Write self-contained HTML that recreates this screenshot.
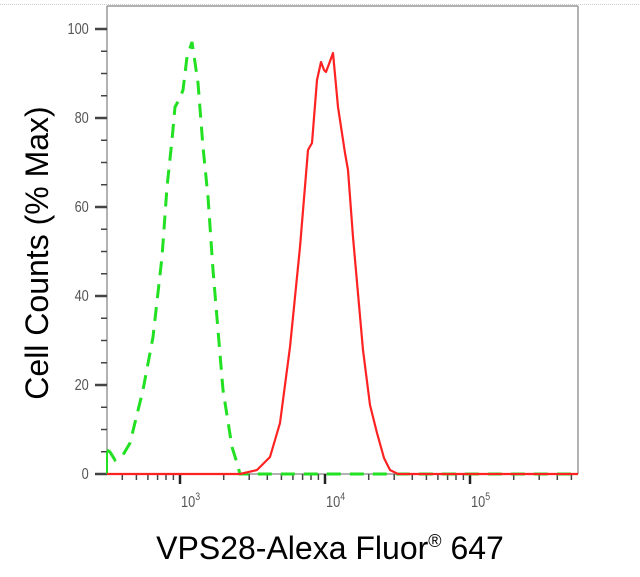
<!DOCTYPE html>
<html><head><style>html,body{margin:0;padding:0;background:#fff;}svg{display:block;}</style></head>
<body>
<svg width="640" height="577" viewBox="0 0 640 577" xmlns="http://www.w3.org/2000/svg">
<rect width="640" height="577" fill="#fff"/>
<line x1="0" y1="4.5" x2="640" y2="4.5" stroke="#ccc" stroke-dasharray="1 1"/>
<line x1="107" y1="6" x2="578" y2="6" stroke="#999" stroke-width="1.5"/>
<line x1="578" y1="6" x2="578" y2="474" stroke="#999" stroke-width="1.5"/>
<line x1="107" y1="6" x2="107" y2="474" stroke="#999" stroke-width="1.5"/>
<line x1="107" y1="474" x2="578" y2="474" stroke="#999" stroke-width="1.5"/>
<g stroke="#444" stroke-width="1.5">
<line x1="95" y1="474" x2="107" y2="474" stroke-width="2.5"/>
<line x1="95" y1="385" x2="107" y2="385" stroke-width="2.5"/>
<line x1="95" y1="296" x2="107" y2="296" stroke-width="2.5"/>
<line x1="95" y1="207" x2="107" y2="207" stroke-width="2.5"/>
<line x1="95" y1="118" x2="107" y2="118" stroke-width="2.5"/>
<line x1="95" y1="29" x2="107" y2="29" stroke-width="2.5"/>
<path d="M101 451.75H107M101 429.5H107M101 407.25H107M101 362.75H107M101 340.5H107M101 318.25H107M101 273.75H107M101 251.5H107M101 229.25H107M101 184.75H107M101 162.5H107M101 140.25H107M101 95.75H107M101 73.5H107M101 51.25H107"/>
</g>
<g font-family="Liberation Sans, sans-serif" font-size="16" fill="#555" text-anchor="end" transform="scale(0.8,1)">
<text x="111" y="479">0</text>
<text x="111" y="390">20</text>
<text x="111" y="301">40</text>
<text x="111" y="212">60</text>
<text x="111" y="123">80</text>
<text x="111" y="34">100</text>
</g>
<path stroke="#444" stroke-width="1.5" d="
M122.3 474v6M136.4 474v6M147.9 474v6M157.6 474v6M166 474v6M173.4 474v6
M223.7 474v6M249.2 474v6M267.3 474v6M281.4 474v6M292.9 474v6M302.6 474v6M311 474v6M318.4 474v6
M368.7 474v6M394.2 474v6M412.3 474v6M426.4 474v6M437.9 474v6M447.6 474v6M456 474v6M463.4 474v6
M513.7 474v6M539.2 474v6M557.3 474v6M571.4 474v6"/>
<path stroke="#222" stroke-width="2.5" d="M180 474v10M325 474v10M470 474v10"/>
<g font-family="Liberation Sans, sans-serif" font-size="16" fill="#555">
<text x="181" y="507" transform="translate(181 0) scale(0.8 1) translate(-181 0)">10<tspan font-size="11" dy="-7">3</tspan></text>
<text x="326" y="507" transform="translate(326 0) scale(0.8 1) translate(-326 0)">10<tspan font-size="11" dy="-7">4</tspan></text>
<text x="471" y="507" transform="translate(471 0) scale(0.8 1) translate(-471 0)">10<tspan font-size="11" dy="-7">5</tspan></text>
</g>
<polyline fill="none" stroke="#22e022" stroke-width="3" stroke-dasharray="14 9" points="107,450 110,452 115,460 123,455 130,443 143,390 153,337 162,257 167,187 172,140 175,107 180,98 183,90 187,57 192,42 198,83 203,147 208,197 213,270 218,330 223,390 232,447 237,463 240,474 578,474"/>
<polyline fill="none" stroke="#22e022" stroke-width="2" points="107,474 107,452"/>
<polyline fill="none" stroke="#f22" stroke-width="2.2" stroke-linejoin="round" points="107,474 240,474 257,470 270,457 280,423 290,347 300,247 308,150 312,143 317,80 321,62 324,70 326,72 329,64 333,53 338,107 345,153 348,170 353,237 363,350 370,405 377,433 384,458 390,470 398,474 578,474"/>
<text x="330" y="559" text-anchor="middle" font-family="Liberation Sans, sans-serif" font-size="32" fill="#000">VPS28-Alexa Fluor<tspan font-size="18" dy="-12">®</tspan><tspan dy="12"> 647</tspan></text>
<text transform="translate(48 253) rotate(-90)" text-anchor="middle" font-family="Liberation Sans, sans-serif" font-size="32" fill="#000">Cell Counts (% Max)</text>
</svg>
</body></html>
